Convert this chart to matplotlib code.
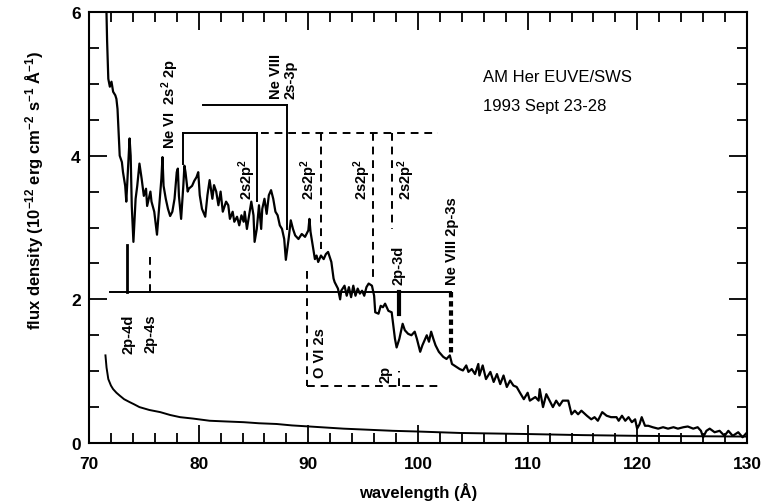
import matplotlib
matplotlib.use('Agg')
from matplotlib import pyplot as plt
from matplotlib.ticker import MultipleLocator

plt.rcParams['font.family'] = ['Liberation Sans', 'DejaVu Sans']
plt.rcParams['mathtext.fontset'] = 'custom'
plt.rcParams['mathtext.rm'] = 'Liberation Sans:bold'
plt.rcParams['mathtext.it'] = 'Liberation Sans:bold'
plt.rcParams['mathtext.bf'] = 'Liberation Sans:bold'
plt.rcParams['mathtext.default'] = 'bf'

# AM Her spectrum (wavelength in A, flux in 1e-12 units)
wave = [71.55, 71.65, 71.76, 71.9, 72.05, 72.2, 72.4, 72.5, 72.6, 72.7, 72.8, 73.0,
        73.1, 73.3, 73.4, 73.6, 73.7, 73.8, 73.9, 74.05, 74.25, 74.4, 74.6, 74.8,
        75.0, 75.2, 75.3, 75.6, 75.7, 75.95, 76.2, 76.4, 76.6, 76.7, 76.8, 77.0,
        77.2, 77.4, 77.6, 77.8, 78.0, 78.1, 78.2, 78.4, 78.6, 78.7, 78.8, 79.0,
        79.1, 79.4, 79.6, 79.8, 79.96, 80.1, 80.3, 80.6, 80.8, 81.0, 81.25, 81.4,
        81.6, 81.8, 82.0, 82.2, 82.5, 82.7, 82.85, 83.1, 83.25, 83.5, 83.7, 83.9,
        84.1, 84.2, 84.4, 84.6, 84.8, 85.0, 85.1, 85.3, 85.5, 85.7, 85.8, 86.0,
        86.2, 86.4, 86.6, 86.8, 87.0, 87.2, 87.4, 87.6, 87.8, 87.95, 88.2, 88.4,
        88.6, 88.8, 89.1, 89.4, 89.7, 90.0, 90.1, 90.2, 90.4, 90.6, 90.75, 90.9,
        91.15, 91.4, 91.6, 91.8, 92.1, 92.3, 92.4, 92.7, 92.9, 93.0, 93.3, 93.5,
        93.7, 93.9, 94.1, 94.3, 94.5, 94.7, 94.9, 95.1, 95.3, 95.5, 95.8, 96.0,
        96.1, 96.4, 96.6, 96.8, 97.0, 97.3, 97.6, 97.9, 98.05, 98.3, 98.6, 98.8,
        99.1, 99.4, 99.7, 99.9, 100.2, 100.4, 100.8, 101.0, 101.2, 101.4, 101.6, 101.9,
        102.3, 102.6, 102.9, 103.1, 103.5, 103.8, 104.1, 104.4, 104.6, 104.9, 105.2, 105.5,
        105.6, 105.9, 106.2, 106.6, 106.9, 107.2, 107.5, 107.8, 108.1, 108.4, 108.7, 109.0,
        109.3, 109.65, 110.0, 110.2, 110.7, 111.0, 111.1, 111.4, 111.7, 112.0, 112.3, 112.6,
        112.9, 113.2, 113.7, 114.0, 114.3, 114.6, 114.9, 115.4, 115.8, 116.1, 116.4, 116.8,
        117.2, 117.6, 118.1, 118.3, 118.6, 118.9, 119.2, 119.5, 119.8, 119.98, 120.2, 120.4,
        120.7, 121.0, 121.4, 121.9, 122.35, 122.8, 123.3, 123.7, 124.2, 124.6, 125.1, 125.5,
        125.8, 126.0, 126.3, 126.6, 127.05, 127.5, 127.95, 128.3, 128.7, 129.2, 129.6, 129.9]
flux = [6.3, 5.6, 5.07, 4.96, 5.03, 4.89, 4.84, 4.79, 4.65, 4.33, 4.0, 3.91,
        3.77, 3.58, 3.36, 3.96, 4.24, 4.0, 3.30, 2.80, 3.40, 3.58, 3.89, 3.68,
        3.44, 3.54, 3.30, 3.50, 3.36, 3.22, 2.90, 3.30, 3.68, 3.98, 3.58, 3.40,
        3.26, 3.16, 3.22, 3.40, 3.77, 3.82, 3.44, 3.12, 3.58, 3.86, 3.77, 3.50,
        3.54, 3.58, 3.65, 3.70, 3.77, 3.45, 3.26, 3.15, 3.45, 3.66, 3.40, 3.59,
        3.50, 3.31, 3.50, 3.22, 3.36, 3.31, 3.12, 3.22, 3.08, 3.15, 3.03, 3.17,
        3.08, 3.22, 2.98, 3.17, 3.36, 3.17, 2.80, 2.98, 3.31, 2.98, 3.26, 3.40,
        3.19, 3.45, 3.52, 3.40, 3.22, 3.17, 3.03, 2.98, 2.84, 2.55, 2.84, 3.10,
        2.98, 2.89, 2.84, 2.91, 2.87, 2.96, 3.12, 2.94, 2.75, 2.56, 2.61, 2.52,
        2.61, 2.56, 2.63, 2.66, 2.52, 2.29, 2.24, 2.15, 2.00, 2.12, 2.19, 2.05,
        2.17, 2.03, 2.19, 2.05, 2.15, 2.08, 2.12, 2.05, 2.17, 2.22, 2.19, 2.05,
        1.82, 1.80, 1.91, 1.89, 1.94, 1.84, 1.82, 1.45, 1.33, 1.45, 1.66, 1.57,
        1.52, 1.50, 1.55, 1.45, 1.27, 1.36, 1.50, 1.41, 1.55, 1.45, 1.36, 1.27,
        1.20, 1.17, 1.22, 1.10, 1.06, 1.03, 1.01, 1.08, 0.99, 1.03, 0.96, 1.10,
        0.94, 1.08, 0.89, 0.99, 0.85, 0.96, 0.82, 0.94, 0.78, 0.87, 0.80, 0.78,
        0.70, 0.61, 0.70, 0.59, 0.64, 0.59, 0.75, 0.50, 0.68, 0.59, 0.50, 0.59,
        0.52, 0.59, 0.59, 0.40, 0.45, 0.40, 0.45, 0.38, 0.33, 0.36, 0.31, 0.43,
        0.38, 0.36, 0.36, 0.31, 0.38, 0.31, 0.36, 0.29, 0.33, 0.20, 0.26, 0.36,
        0.24, 0.24, 0.22, 0.20, 0.22, 0.20, 0.22, 0.20, 0.22, 0.23, 0.20, 0.22,
        0.17, 0.08, 0.17, 0.20, 0.15, 0.17, 0.10, 0.17, 0.10, 0.15, 0.08, 0.13]

# lower (background) curve
bg_wave = [71.5, 71.6, 71.76, 72.0, 72.2, 72.5, 72.8, 73.2, 73.7, 74.1, 74.6, 75.5,
           76.5, 77.4, 78.3, 79.5, 81.0, 82.5, 84.1, 85.5, 87.1, 88.5, 90.1, 93.2,
           97.7, 100.0, 103.8, 110.0, 115.0, 120.0, 125.0, 130.0]
bg_flux = [1.22, 1.05, 0.89, 0.80, 0.75, 0.70, 0.66, 0.61, 0.57, 0.54, 0.50, 0.46,
           0.43, 0.39, 0.36, 0.34, 0.31, 0.30, 0.29, 0.275, 0.265, 0.245, 0.23, 0.20,
           0.17, 0.16, 0.14, 0.125, 0.11, 0.10, 0.095, 0.09]

# line identifications
ne6_level = 4.31
ne6_solid = [78.6, 85.3]
ne6_solid_end = [3.89, 3.37]
ne6_dashed = [91.2, 95.9, 97.6]
ne6_dashed_end = [2.70, 2.29, 2.98]
ne6_right = 101.8
ne8_level = 4.70
ne8_left = 80.4
ne8_wave = 88.1
ne8_end = 2.98
base_level = 2.10
base_span = [71.9, 103.0]
o6_wave = 89.85
o6_top = 2.40
o6_level = 0.79
o6_right = 102.0
o6_2p = 98.3

fig = plt.figure(figsize=(7.62, 5.02), dpi=100)
ax = fig.add_axes([0.1168, 0.1155, 0.8635, 0.8586])

ax.plot(wave, flux, color='black', lw=1.6, solid_joinstyle='round')
ax.plot(bg_wave, bg_flux, color='black', lw=1.4)

dash = (0, (4, 3))
lk = dict(color='black', lw=1.4)

# Ne VI multiplet
ax.plot([ne6_solid[0], ne6_solid[1]], [ne6_level, ne6_level], **lk)
ax.plot([ne6_solid[1] + 0.4, ne6_right], [ne6_level, ne6_level], ls=dash, **lk)
for w, e in zip(ne6_solid, ne6_solid_end):
    ax.plot([w, w], [ne6_level, e], **lk)
for w, e in zip(ne6_dashed, ne6_dashed_end):
    ax.plot([w, w], [ne6_level, e], ls=dash, **lk)

# Ne VIII 2s-3p
ax.plot([ne8_left, ne8_wave], [ne8_level, ne8_level], **lk)
ax.plot([ne8_wave, ne8_wave], [ne8_level, ne8_end], **lk)

# 2p-nl series
ax.plot(base_span, [base_level, base_level], **lk)
ax.plot([73.5, 73.5], [base_level, 2.75], color='black', lw=2)
ax.plot([75.6, 75.6], [base_level, 2.60], ls=dash, **lk)
ax.plot([98.3, 98.3], [base_level, 1.80], color='black', lw=3)
ax.plot([103.0, 103.0], [base_level, 1.21], color='black', lw=3, ls=(0, (1.3, 0.9)))

# O VI
ax.plot([o6_wave, o6_wave], [o6_top, o6_level], ls=dash, **lk)
ax.plot([o6_wave, o6_right], [o6_level, o6_level], ls=dash, **lk)
ax.plot([o6_2p, o6_2p], [o6_level, 1.0], ls=dash, **lk)

tk = dict(rotation=90, fontsize=10.5, fontweight='bold', ha='center')
ax.text(77.4, 4.10, 'Ne VI  2s$^2$ 2p', va='bottom', **tk)
ax.text(87.7, 4.80, 'Ne VIII\n2s-3p', va='bottom', multialignment='left',
        linespacing=1.0, **tk)
for w in [84.4, 90.1, 94.9, 98.95]:
    ax.text(w, 3.40, '2s2p$^2$', va='bottom', **tk)
ax.text(73.6, 1.80, '2p-4d', va='top', **tk)
ax.text(75.6, 1.80, '2p-4s', va='top', **tk)
ax.text(98.2, 2.22, '2p-3d', va='bottom', **tk)
ax.text(103.1, 2.22, 'Ne VIII 2p-3s', va='bottom', **tk)
ax.text(91.1, 0.92, 'O VI 2s', va='bottom', **tk)
ax.text(97.0, 0.85, '2p', va='bottom', **tk)

ax.text(105.9, 5.10, 'AM Her EUVE/SWS', fontsize=12, va='center', ha='left')
ax.text(105.9, 4.70, '1993 Sept 23-28', fontsize=12, va='center', ha='left')

ax.set_xlim(70, 130)
ax.set_ylim(0, 6)
ax.xaxis.set_major_locator(MultipleLocator(10))
ax.xaxis.set_minor_locator(MultipleLocator(2))
ax.yaxis.set_major_locator(MultipleLocator(2))
ax.yaxis.set_minor_locator(MultipleLocator(0.5))
ax.tick_params(which='both', direction='in', top=True, right=True, width=1.3)
ax.tick_params(which='major', length=13, labelsize=12.5)
ax.tick_params(which='minor', length=7)
ax.tick_params(axis='x', pad=9)
ax.tick_params(axis='y', pad=6)
for lab in ax.get_xticklabels() + ax.get_yticklabels():
    lab.set_fontweight('bold')
for s in ax.spines.values():
    s.set_linewidth(1.5)

ax.set_xlabel('wavelength (Å)', fontsize=12, fontweight='bold')
ax.set_ylabel('flux density (10$^{-12}$ erg cm$^{-2}$ s$^{-1}$ Å$^{-1}$)',
              fontsize=12, fontweight='bold')
ax.xaxis.set_label_coords(0.5, -0.09)
ax.yaxis.set_label_coords(-0.066, 0.589)

fig.savefig('out.png', dpi=100)
